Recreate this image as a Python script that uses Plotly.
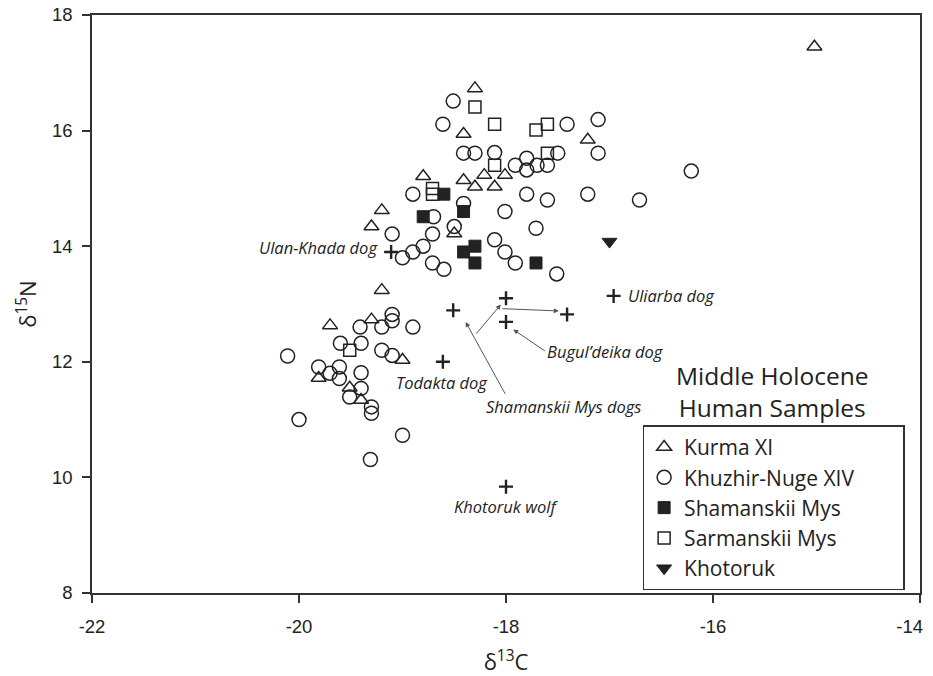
import plotly.graph_objects as go

# ---------------- data ----------------
kurma_x = [-18.30, -18.41, -17.21, -18.80, -18.41, -18.21, -18.01, -18.30, -18.11,
           -19.20, -19.30, -18.50, -19.20, -19.30, -19.70, -19.00, -19.81, -19.51,
           -19.40, -15.02]
kurma_y = [16.73, 15.94, 15.84, 15.21, 15.14, 15.23, 15.23, 15.03, 15.03,
           14.62, 14.34, 14.22, 13.24, 12.73, 12.63, 12.03, 11.72, 11.55,
           11.34, 17.45]

khuzhir_x = [-18.51, -18.61, -17.41, -17.11, -17.11, -18.41, -18.30, -18.11, -17.91,
             -17.80, -17.80, -17.70, -17.60, -17.50, -18.90, -17.80, -17.60, -17.21,
             -16.71, -16.21, -18.70, -18.41, -18.01, -19.10, -18.71, -18.50, -17.71,
             -18.80, -18.90, -19.00, -18.11, -18.01, -17.91, -17.51, -18.71, -18.60,
             -19.10, -19.10, -19.41, -19.20, -18.90, -19.60, -19.40, -20.11, -19.20,
             -19.10, -19.81, -19.61, -19.70, -19.61, -19.40, -19.51, -19.40, -19.30,
             -19.30, -20.00, -19.00, -19.31]
khuzhir_y = [16.51, 16.11, 16.11, 16.19, 15.61, 15.61, 15.61, 15.62, 15.40,
             15.52, 15.32, 15.40, 15.40, 15.61, 14.90, 14.90, 14.80, 14.90,
             14.80, 15.30, 14.51, 14.74, 14.60, 14.21, 14.21, 14.34, 14.31,
             14.00, 13.90, 13.80, 14.11, 13.90, 13.71, 13.52, 13.71, 13.60,
             12.82, 12.71, 12.60, 12.60, 12.60, 12.32, 12.32, 12.10, 12.20,
             12.11, 11.91, 11.91, 11.80, 11.71, 11.81, 11.39, 11.54, 11.22,
             11.11, 11.00, 10.73, 10.31]

shamanskii_x = [-18.60, -18.80, -18.41, -18.41, -18.30, -18.30, -17.71]
shamanskii_y = [14.90, 14.51, 14.60, 13.90, 14.00, 13.71, 13.71]

sarmanskii_x = [-18.30, -18.11, -17.71, -17.60, -18.11, -17.60, -18.71, -18.71, -19.51]
sarmanskii_y = [16.41, 16.11, 16.01, 16.11, 15.40, 15.61, 15.00, 14.90, 12.20]

khotoruk_x = [-17.00]
khotoruk_y = [14.08]

# canids (plus markers)
dog_x = [-19.11, -18.51, -18.00, -17.41, -18.00, -16.96, -18.61, -18.00]
dog_y = [13.90, 12.89, 13.10, 12.82, 12.69, 13.14, 12.00, 9.84]

# text labels for canids
label_text = ["Ulan-Khada dog", "Uliarba dog", "Todakta dog", "Bugul\u2019deika dog",
              "Shamanskii Mys dogs", "Khotoruk wolf"]
label_x = [-19.22, -16.84, -18.62, -17.04, -17.44, -18.00]
label_y = [13.97, 13.14, 11.64, 12.18, 11.22, 9.49]
label_anchor = ["right", "left", "center", "center", "center", "center"]

# arrows: tail (ax, ay) -> head (hx, hy)
arrow_ax = [-18.00, -18.30, -18.05, -17.61]
arrow_ay = [11.42, 12.46, 12.92, 12.17]
arrow_hx = [-18.39, -18.05, -17.49, -17.93]
arrow_hy = [12.69, 12.99, 12.88, 12.56]

x_ticks = [-22, -20, -18, -16, -14]
x_ticktext = ["-22", "-20", "-18", "-16", "-14\u00a0\u00a0\u00a0\u00a0"]
y_ticks = [8, 10, 12, 14, 16, 18]

# ---------------- figure ----------------
INK = "#222222"
AXC = "#333333"
FONT = "Open Sans"
PAD = "\u00a0" * 8  # widens the legend box like the reference

fig = go.Figure()

fig.add_trace(go.Scatter(
    x=kurma_x, y=kurma_y, mode="markers", name="Kurma XI",
    marker=dict(symbol="triangle-up-open", size=13, color=INK,
                line=dict(width=1.5, color=INK))))
fig.add_trace(go.Scatter(
    x=khuzhir_x, y=khuzhir_y, mode="markers", name="Khuzhir-Nuge XIV" + PAD,
    marker=dict(symbol="circle-open", size=14, color=INK,
                line=dict(width=1.5, color=INK))))
fig.add_trace(go.Scatter(
    x=shamanskii_x, y=shamanskii_y, mode="markers", name="Shamanskii Mys",
    marker=dict(symbol="square", size=12, color=INK,
                line=dict(width=1, color=INK))))
fig.add_trace(go.Scatter(
    x=sarmanskii_x, y=sarmanskii_y, mode="markers", name="Sarmanskii Mys",
    marker=dict(symbol="square-open", size=12, color=INK,
                line=dict(width=1.5, color=INK))))
fig.add_trace(go.Scatter(
    x=khotoruk_x, y=khotoruk_y, mode="markers", name="Khotoruk",
    marker=dict(symbol="triangle-down", size=13, color=INK,
                line=dict(width=1, color=INK))))
fig.add_trace(go.Scatter(
    x=dog_x, y=dog_y, mode="markers", name="dogs", showlegend=False,
    marker=dict(symbol="cross-thin", size=10, color=INK,
                line=dict(width=2.4, color=INK))))

annotations = []
for t, x, y, a in zip(label_text, label_x, label_y, label_anchor):
    annotations.append(dict(
        x=x, y=y, xref="x", yref="y", text="<i>%s</i>" % t, showarrow=False,
        xanchor=a, yanchor="middle",
        font=dict(family=FONT, size=16.5, color=INK)))
for ax, ay, hx, hy in zip(arrow_ax, arrow_ay, arrow_hx, arrow_hy):
    annotations.append(dict(
        x=hx, y=hy, ax=ax, ay=ay, xref="x", yref="y", axref="x", ayref="y",
        text="", showarrow=True, arrowhead=2, arrowsize=1, arrowwidth=1,
        arrowcolor="#555555", standoff=0, startstandoff=0))
annotations.append(dict(
    x=0.822, y=0.349, xref="paper", yref="paper",
    text="Middle Holocene<br>Human Samples", showarrow=False,
    xanchor="center", yanchor="middle", align="center",
    font=dict(family=FONT, size=24.5, color=INK)))

axis_common = dict(
    showline=True, linecolor=AXC, linewidth=1.5, mirror=True,
    ticks="outside", ticklen=8, tickwidth=1.5, tickcolor=AXC,
    showgrid=False, zeroline=False, automargin=False,
    ticklabeloverflow="allow",
    tickfont=dict(family="Liberation Sans, Arial, sans-serif", size=18.5, color=INK),
)

# the page body adds an 8 px offset, so the figure is 8 px smaller
fig.update_layout(
    width=925, height=668,
    margin=dict(l=84, r=13, t=7, b=83, autoexpand=False),
    paper_bgcolor="white", plot_bgcolor="white",
    xaxis=dict(range=[-22, -14], tickvals=x_ticks, ticktext=x_ticktext,
               ticklabelstandoff=8,
               title=dict(text="\u03b4<sup>13</sup>C", standoff=26,
                          font=dict(family=FONT, size=22, color=INK)),
               **axis_common),
    yaxis=dict(range=[8, 18], tickvals=y_ticks,
               ticktext=[str(v) for v in y_ticks],
               ticklabelstandoff=6,
               title=dict(text="\u03b4<sup>15</sup>N", standoff=9,
                          font=dict(family=FONT, size=22, color=INK)),
               **axis_common),
    legend=dict(x=0.665, y=0.29, xanchor="left", yanchor="top",
                bordercolor=AXC, borderwidth=1.5, bgcolor="white",
                font=dict(family=FONT, size=21, color=INK),
                itemsizing="trace", tracegroupgap=0),
    annotations=annotations,
    showlegend=True,
)

fig.write_html("out.html")
